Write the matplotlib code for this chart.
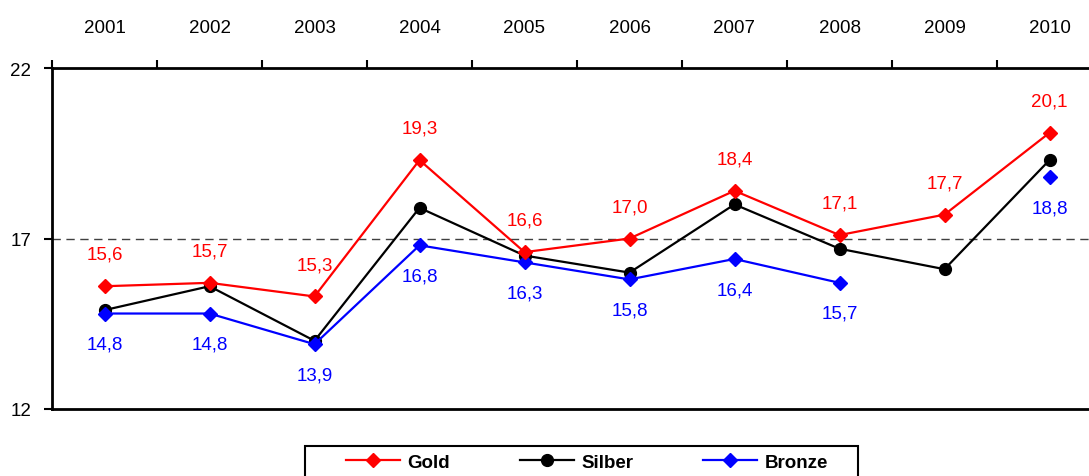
import numpy as np
import matplotlib.pyplot as plt
from matplotlib.ticker import FixedLocator
from matplotlib.patches import Rectangle

plt.rcParams['font.family'] = ['Liberation Sans Narrow', 'Liberation Sans', 'DejaVu Sans']

years = ['2001', '2002', '2003', '2004', '2005', '2006', '2007', '2008', '2009', '2010']
gold = [15.6, 15.7, 15.3, 19.3, 16.6, 17.0, 18.4, 17.1, 17.7, 20.1]
silber = [14.9, 15.6, 14.0, 17.9, 16.5, 16.0, 18.0, 16.7, 16.1, 19.3]
bronze = [14.8, 14.8, 13.9, 16.8, 16.3, 15.8, 16.4, 15.7, np.nan, 18.8]
ref_line = 17.0

x = np.arange(1, len(years) + 1)
fs = 13.5

fig = plt.figure(figsize=(10.89, 4.77), dpi=100)
# axes runs past the right edge of the figure (chart is cut off there)
ax = fig.add_axes([52 / 1089, 67 / 477, 1050 / 1089, 341 / 477])

ax.axhline(ref_line, color='#404040', lw=1, ls=(0, (6, 4)), zorder=1)

ax.plot(x, gold, color='#ff0000', lw=1.6, marker='D', ms=7.5, label='Gold', zorder=4)
ax.plot(x, silber, color='black', lw=1.6, marker='o', ms=8.5, label='Silber', zorder=3)
ax.plot(x, bronze, color='#0000ff', lw=1.6, marker='D', ms=7.5, label='Bronze', zorder=3)

for xi, v in zip(x, gold):
    ax.annotate(f'{v:.1f}'.replace('.', ','), (xi, v), xytext=(0, 23), textcoords='offset points',
                ha='center', va='center', color='#ff0000', fontsize=fs)
for xi, v in zip(x, bronze):
    if np.isnan(v):
        continue
    ax.annotate(f'{v:.1f}'.replace('.', ','), (xi, v), xytext=(0, -22), textcoords='offset points',
                ha='center', va='center', color='#0000ff', fontsize=fs)

ax.set_xlim(0.5, 10.5)
ax.set_ylim(12, 22)
ax.set_yticks([12, 17, 22])
ax.tick_params(axis='y', length=6, width=1.5, pad=9, labelsize=fs, direction='out')

ax.xaxis.tick_top()
ax.xaxis.set_major_locator(FixedLocator(np.arange(0.5, 11, 1)))
ax.xaxis.set_minor_locator(FixedLocator(x))
ax.xaxis.set_ticklabels([], minor=False)
ax.set_xticklabels(years, minor=True)
ax.tick_params(axis='x', which='major', length=6, width=1.5, direction='out', top=True, bottom=False)
ax.tick_params(axis='x', which='minor', length=0, pad=23, labelsize=fs, top=True, bottom=False,
               labeltop=True, labelbottom=False)

for side in ['top', 'bottom', 'left']:
    ax.spines[side].set_linewidth(2)
ax.spines['right'].set_visible(False)

# legend box runs off the bottom edge in the reference
fig.patches.append(Rectangle((305 / 1089, -0.1), 553 / 1089, 0.1 + 30 / 477, transform=fig.transFigure,
                             fill=False, edgecolor='black', lw=1.5))
fig.legend(loc='center', bbox_to_anchor=(587 / 1089, 1 - 463 / 477), ncol=3,
           frameon=False, handlelength=2.9, columnspacing=3.7, borderaxespad=0, handletextpad=0.4,
           prop={'weight': 'bold', 'size': fs})

fig.savefig('out.png', dpi=100)
